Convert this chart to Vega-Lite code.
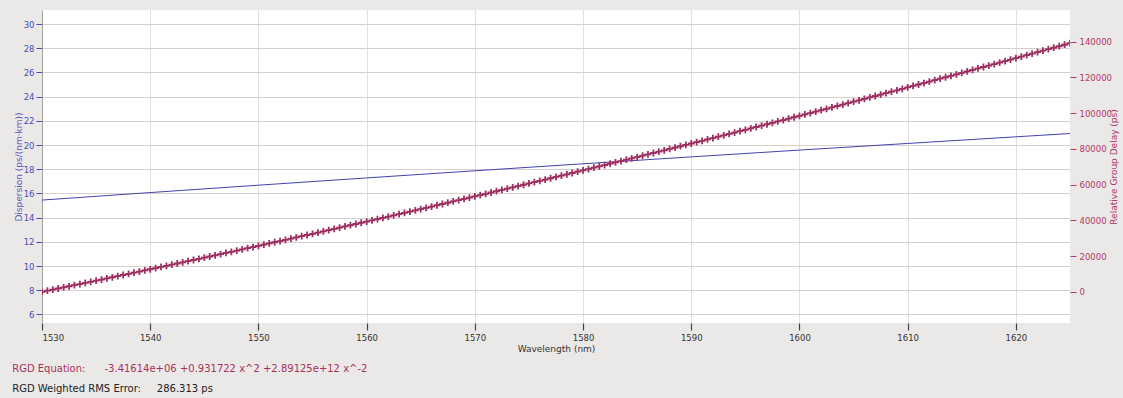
{
  "$schema": "https://vega.github.io/schema/vega-lite/v6.json",
  "width": 1028,
  "height": 313,
  "autosize": {"type": "none"},
  "padding": {"left": 42, "top": 10, "right": 53, "bottom": 75},
  "background": "#ebe9e7",
  "config": {
    "view": {"fill": "white", "stroke": null},
    "font": "DejaVu Sans",
    "axis": {"labelFont": "DejaVu Sans", "titleFont": "DejaVu Sans", "titleFontWeight": "normal", "labelFontSize": 8.5, "titleFontSize": 9}
  },
  "title": {
    "text": "RGD Equation:\u00a0\u00a0\u00a0\u00a0\u00a0\u00a0-3.41614e+06 +0.931722 x^2 +2.89125e+12 x^-2",
    "subtitle": "RGD Weighted RMS Error:\u00a0\u00a0\u00a0\u00a0\u00a0286.313 ps",
    "orient": "bottom",
    "anchor": "start",
    "frame": "bounds",
    "offset": 10,
    "dx": -2,
    "font": "DejaVu Sans",
    "fontSize": 10,
    "fontWeight": "normal",
    "color": "#a8305f",
    "subtitleFont": "DejaVu Sans",
    "subtitleFontSize": 10,
    "subtitleColor": "#222222",
    "subtitlePadding": 10
  },
  "datasets": {
    "disp": [
      {"wl": 1530, "d": 15.45}, {"wl": 1540, "d": 16.07}, {"wl": 1550, "d": 16.68}, {"wl": 1560, "d": 17.28},
      {"wl": 1570, "d": 17.87}, {"wl": 1580, "d": 18.45}, {"wl": 1590, "d": 19.02}, {"wl": 1600, "d": 19.58},
      {"wl": 1610, "d": 20.13}, {"wl": 1620, "d": 20.68}, {"wl": 1625, "d": 20.95}
    ],
    "rgd": [
      {"wl": 1530, "r": 0}, {"wl": 1530.5, "r": 619}, {"wl": 1531, "r": 1239}, {"wl": 1531.5, "r": 1861},
      {"wl": 1532, "r": 2483}, {"wl": 1532.5, "r": 3107}, {"wl": 1533, "r": 3732}, {"wl": 1533.5, "r": 4359},
      {"wl": 1534, "r": 4987}, {"wl": 1534.5, "r": 5616}, {"wl": 1535, "r": 6246}, {"wl": 1535.5, "r": 6877},
      {"wl": 1536, "r": 7510}, {"wl": 1536.5, "r": 8144}, {"wl": 1537, "r": 8779}, {"wl": 1537.5, "r": 9415},
      {"wl": 1538, "r": 10053}, {"wl": 1538.5, "r": 10692}, {"wl": 1539, "r": 11332}, {"wl": 1539.5, "r": 11974},
      {"wl": 1540, "r": 12616}, {"wl": 1540.5, "r": 13260}, {"wl": 1541, "r": 13905}, {"wl": 1541.5, "r": 14552},
      {"wl": 1542, "r": 15199}, {"wl": 1542.5, "r": 15848}, {"wl": 1543, "r": 16498}, {"wl": 1543.5, "r": 17149},
      {"wl": 1544, "r": 17802}, {"wl": 1544.5, "r": 18456}, {"wl": 1545, "r": 19111}, {"wl": 1545.5, "r": 19767},
      {"wl": 1546, "r": 20424}, {"wl": 1546.5, "r": 21083}, {"wl": 1547, "r": 21743}, {"wl": 1547.5, "r": 22404},
      {"wl": 1548, "r": 23066}, {"wl": 1548.5, "r": 23730}, {"wl": 1549, "r": 24395}, {"wl": 1549.5, "r": 25060},
      {"wl": 1550, "r": 25728}, {"wl": 1550.5, "r": 26396}, {"wl": 1551, "r": 27066}, {"wl": 1551.5, "r": 27737},
      {"wl": 1552, "r": 28409}, {"wl": 1552.5, "r": 29082}, {"wl": 1553, "r": 29757}, {"wl": 1553.5, "r": 30432},
      {"wl": 1554, "r": 31109}, {"wl": 1554.5, "r": 31787}, {"wl": 1555, "r": 32467}, {"wl": 1555.5, "r": 33147},
      {"wl": 1556, "r": 33829}, {"wl": 1556.5, "r": 34512}, {"wl": 1557, "r": 35196}, {"wl": 1557.5, "r": 35882},
      {"wl": 1558, "r": 36568}, {"wl": 1558.5, "r": 37256}, {"wl": 1559, "r": 37945}, {"wl": 1559.5, "r": 38635},
      {"wl": 1560, "r": 39327}, {"wl": 1560.5, "r": 40019}, {"wl": 1561, "r": 40713}, {"wl": 1561.5, "r": 41408},
      {"wl": 1562, "r": 42104}, {"wl": 1562.5, "r": 42802}, {"wl": 1563, "r": 43500}, {"wl": 1563.5, "r": 44200},
      {"wl": 1564, "r": 44901}, {"wl": 1564.5, "r": 45603}, {"wl": 1565, "r": 46307}, {"wl": 1565.5, "r": 47011},
      {"wl": 1566, "r": 47717}, {"wl": 1566.5, "r": 48424}, {"wl": 1567, "r": 49132}, {"wl": 1567.5, "r": 49841},
      {"wl": 1568, "r": 50552}, {"wl": 1568.5, "r": 51263}, {"wl": 1569, "r": 51976}, {"wl": 1569.5, "r": 52690},
      {"wl": 1570, "r": 53405}, {"wl": 1570.5, "r": 54122}, {"wl": 1571, "r": 54839}, {"wl": 1571.5, "r": 55558},
      {"wl": 1572, "r": 56278}, {"wl": 1572.5, "r": 56999}, {"wl": 1573, "r": 57722}, {"wl": 1573.5, "r": 58445},
      {"wl": 1574, "r": 59170}, {"wl": 1574.5, "r": 59895}, {"wl": 1575, "r": 60622}, {"wl": 1575.5, "r": 61350},
      {"wl": 1576, "r": 62080}, {"wl": 1576.5, "r": 62810}, {"wl": 1577, "r": 63542}, {"wl": 1577.5, "r": 64275},
      {"wl": 1578, "r": 65009}, {"wl": 1578.5, "r": 65744}, {"wl": 1579, "r": 66480}, {"wl": 1579.5, "r": 67218},
      {"wl": 1580, "r": 67956}, {"wl": 1580.5, "r": 68696}, {"wl": 1581, "r": 69437}, {"wl": 1581.5, "r": 70179},
      {"wl": 1582, "r": 70922}, {"wl": 1582.5, "r": 71667}, {"wl": 1583, "r": 72412}, {"wl": 1583.5, "r": 73159},
      {"wl": 1584, "r": 73907}, {"wl": 1584.5, "r": 74656}, {"wl": 1585, "r": 75406}, {"wl": 1585.5, "r": 76158},
      {"wl": 1586, "r": 76910}, {"wl": 1586.5, "r": 77664}, {"wl": 1587, "r": 78419}, {"wl": 1587.5, "r": 79174},
      {"wl": 1588, "r": 79932}, {"wl": 1588.5, "r": 80690}, {"wl": 1589, "r": 81449}, {"wl": 1589.5, "r": 82210},
      {"wl": 1590, "r": 82971}, {"wl": 1590.5, "r": 83734}, {"wl": 1591, "r": 84498}, {"wl": 1591.5, "r": 85263},
      {"wl": 1592, "r": 86029}, {"wl": 1592.5, "r": 86797}, {"wl": 1593, "r": 87565}, {"wl": 1593.5, "r": 88335},
      {"wl": 1594, "r": 89106}, {"wl": 1594.5, "r": 89878}, {"wl": 1595, "r": 90651}, {"wl": 1595.5, "r": 91425},
      {"wl": 1596, "r": 92200}, {"wl": 1596.5, "r": 92977}, {"wl": 1597, "r": 93754}, {"wl": 1597.5, "r": 94533},
      {"wl": 1598, "r": 95313}, {"wl": 1598.5, "r": 96094}, {"wl": 1599, "r": 96876}, {"wl": 1599.5, "r": 97659},
      {"wl": 1600, "r": 98443}, {"wl": 1600.5, "r": 99228}, {"wl": 1601, "r": 100015}, {"wl": 1601.5, "r": 100803},
      {"wl": 1602, "r": 101591}, {"wl": 1602.5, "r": 102381}, {"wl": 1603, "r": 103172}, {"wl": 1603.5, "r": 103965},
      {"wl": 1604, "r": 104758}, {"wl": 1604.5, "r": 105552}, {"wl": 1605, "r": 106348}, {"wl": 1605.5, "r": 107144},
      {"wl": 1606, "r": 107942}, {"wl": 1606.5, "r": 108741}, {"wl": 1607, "r": 109541}, {"wl": 1607.5, "r": 110342},
      {"wl": 1608, "r": 111144}, {"wl": 1608.5, "r": 111947}, {"wl": 1609, "r": 112752}, {"wl": 1609.5, "r": 113557},
      {"wl": 1610, "r": 114364}, {"wl": 1610.5, "r": 115171}, {"wl": 1611, "r": 115980}, {"wl": 1611.5, "r": 116790},
      {"wl": 1612, "r": 117601}, {"wl": 1612.5, "r": 118413}, {"wl": 1613, "r": 119226}, {"wl": 1613.5, "r": 120040},
      {"wl": 1614, "r": 120856}, {"wl": 1614.5, "r": 121672}, {"wl": 1615, "r": 122490}, {"wl": 1615.5, "r": 123308},
      {"wl": 1616, "r": 124128}, {"wl": 1616.5, "r": 124949}, {"wl": 1617, "r": 125771}, {"wl": 1617.5, "r": 126594},
      {"wl": 1618, "r": 127418}, {"wl": 1618.5, "r": 128243}, {"wl": 1619, "r": 129069}, {"wl": 1619.5, "r": 129897},
      {"wl": 1620, "r": 130725}, {"wl": 1620.5, "r": 131555}, {"wl": 1621, "r": 132385}, {"wl": 1621.5, "r": 133217},
      {"wl": 1622, "r": 134050}, {"wl": 1622.5, "r": 134884}, {"wl": 1623, "r": 135718}, {"wl": 1623.5, "r": 136554},
      {"wl": 1624, "r": 137392}, {"wl": 1624.5, "r": 138230}, {"wl": 1625, "r": 139069}
    ]
  },
  "layer": [
    {
      "data": {"name": "disp"},
      "mark": {"type": "line", "color": "#4343b0", "strokeWidth": 1, "clip": true},
      "encoding": {
        "x": {
          "field": "wl", "type": "quantitative",
          "scale": {"domain": [1530, 1625], "nice": false, "zero": false},
          "axis": {
            "title": "Wavelength (nm)", "values": [1530, 1540, 1550, 1560, 1570, 1580, 1590, 1600, 1610, 1620],
            "format": "d", "domain": false, "grid": true, "gridColor": "#e3dfdc", "gridWidth": 1,
            "tickColor": "#444444", "tickSize": 7, "tickWidth": 1.2, "labelColor": "#333333", "labelPadding": 3,
            "titleColor": "#333333", "titlePadding": 3
          }
        },
        "y": {
          "field": "d", "type": "quantitative",
          "scale": {"domain": [5.29, 31.16], "nice": false, "zero": false},
          "axis": {
            "title": "Dispersion (ps/(nm·km))", "values": [6, 8, 10, 12, 14, 16, 18, 20, 22, 24, 26, 28, 30],
            "domain": true, "domainColor": "#a6a2a0", "grid": true, "gridColor": "#d4d0cc", "gridWidth": 1.2,
            "tickColor": "#4a4ab8", "tickSize": 6, "labelColor": "#4a4ab8", "labelPadding": 2,
            "titleColor": "#5a5abf", "titlePadding": 0
          }
        }
      }
    },
    {
      "mark": {"type": "rule", "color": "#e0603c", "strokeWidth": 1},
      "encoding": {"x": {"datum": 1550, "type": "quantitative"}}
    },
    {
      "data": {"name": "rgd"},
      "mark": {
        "type": "line", "color": "#9e2f62", "strokeWidth": 1.2, "clip": true,
        "point": {"shape": "M-1,0H1M0,-1V1", "filled": false, "size": 46, "strokeWidth": 1.8, "color": "#9e2f62"}
      },
      "encoding": {
        "x": {"field": "wl", "type": "quantitative"},
        "y": {
          "field": "r", "type": "quantitative",
          "scale": {"domain": [-17440, 157660], "nice": false, "zero": false},
          "axis": {
            "orient": "right", "title": "Relative Group Delay (ps)",
            "values": [0, 20000, 40000, 60000, 80000, 100000, 120000, 140000], "format": "d",
            "domain": false, "grid": false, "tickColor": "#b0386a", "tickSize": 6, "labelColor": "#b0386a",
            "labelPadding": 3, "titleColor": "#b0386a", "titleAngle": 270, "titlePadding": 7
          }
        }
      }
    }
  ],
  "resolve": {"scale": {"y": "independent"}, "axis": {"y": "independent"}}
}
